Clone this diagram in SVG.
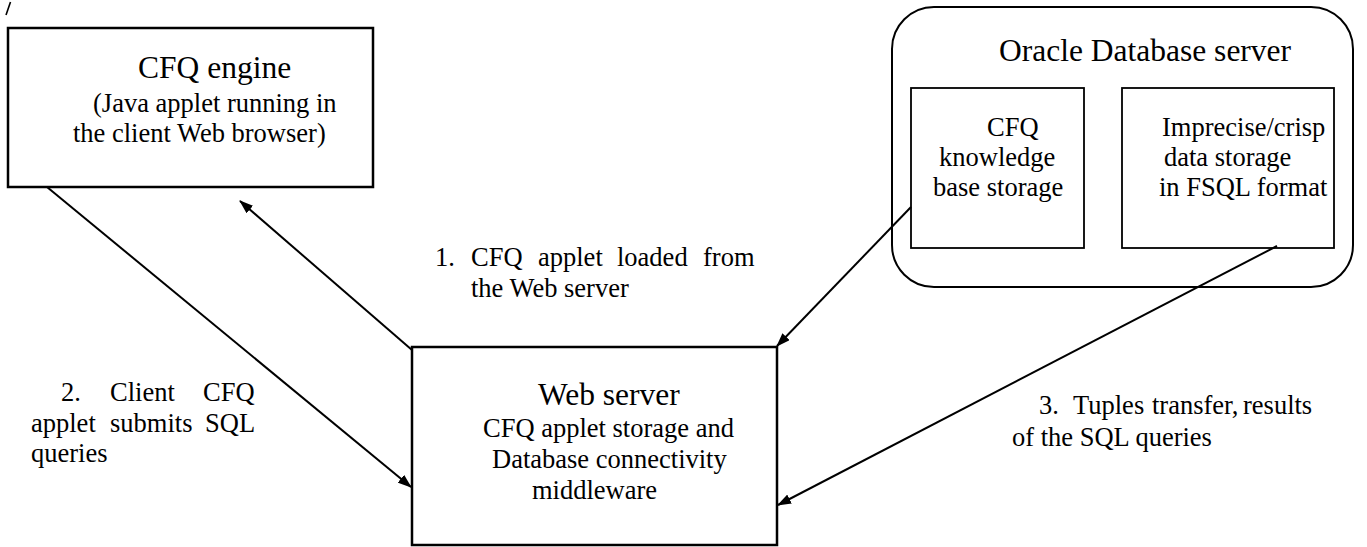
<svg xmlns="http://www.w3.org/2000/svg" width="1367" height="547" viewBox="0 0 1367 547">
<style>
text{font-family:"Liberation Serif","Times New Roman",serif;fill:#000}
.t{font-size:31.5px}
.s{font-size:26.5px}
.box{fill:#fff;stroke:#000;stroke-width:2.5}
.ibox{fill:none;stroke:#000;stroke-width:1.8}
.con{fill:none;stroke:#000;stroke-width:2}
</style>
<defs>
<marker id="ah" markerWidth="14" markerHeight="10" refX="13" refY="5" orient="auto" markerUnits="userSpaceOnUse">
<path d="M0,0 L14,5 L0,10 z" fill="#000"/>
</marker>
</defs>
<line x1="6" y1="15" x2="10.5" y2="2" stroke="#000" stroke-width="1.6"/>
<g id="cfq-engine">
<rect class="box" x="8" y="28" width="365" height="159"/>
<text class="t" x="138" y="78">CFQ engine</text>
<text class="s" x="93" y="112">(Java applet running in</text>
<text class="s" x="73" y="142">the client Web browser)</text>
</g>
<g id="oracle-server">
<rect x="892" y="7" width="461" height="280" rx="42" ry="42" fill="none" stroke="#000" stroke-width="2"/>
<text class="t" x="999" y="61">Oracle Database server</text>
</g>
<g id="knowledge-base">
<rect class="ibox" x="911" y="88" width="173" height="160"/>
<text class="s" x="987" y="136">CFQ</text>
<text class="s" x="939" y="166">knowledge</text>
<text class="s" x="933" y="196">base storage</text>
</g>
<g id="data-storage">
<rect class="ibox" x="1122" y="88" width="212" height="160"/>
<text class="s" x="1162" y="136">Imprecise/crisp</text>
<text class="s" x="1164" y="166">data storage</text>
<text class="s" x="1159" y="196">in FSQL format</text>
</g>
<g id="web-server">
<rect class="box" x="412" y="347" width="365" height="198"/>
<text class="t" x="538" y="405">Web server</text>
<text class="s" x="483" y="437">CFQ applet storage and</text>
<text class="s" x="492" y="468">Database connectivity</text>
<text class="s" x="532" y="499">middleware</text>
</g>
<g id="connectors">
<line class="con" x1="412" y1="350" x2="240" y2="201" marker-end="url(#ah)"/>
<line class="con" x1="47" y1="187" x2="411" y2="487" marker-end="url(#ah)"/>
<line class="con" x1="911" y1="207" x2="777" y2="346" marker-end="url(#ah)"/>
<line class="con" x1="1277" y1="246" x2="778" y2="505" marker-end="url(#ah)"/>
</g>
<g id="labels">
<text class="s" y="266"><tspan x="435">1.</tspan><tspan x="471">CFQ</tspan><tspan x="538">applet</tspan><tspan x="617">loaded</tspan><tspan x="703">from</tspan></text>
<text class="s" x="471" y="297">the Web server</text>
<text class="s" y="401"><tspan x="61">2.</tspan><tspan x="110">Client</tspan><tspan x="203">CFQ</tspan></text>
<text class="s" y="432"><tspan x="31">applet</tspan><tspan x="110">submits</tspan><tspan x="205">SQL</tspan></text>
<text class="s" x="31" y="462">queries</text>
<text class="s" y="414"><tspan x="1039">3.</tspan><tspan x="1073">Tuples</tspan><tspan x="1152">transfer,</tspan><tspan x="1243">results</tspan></text>
<text class="s" x="1012" y="446">of the SQL queries</text>
</g>
</svg>
